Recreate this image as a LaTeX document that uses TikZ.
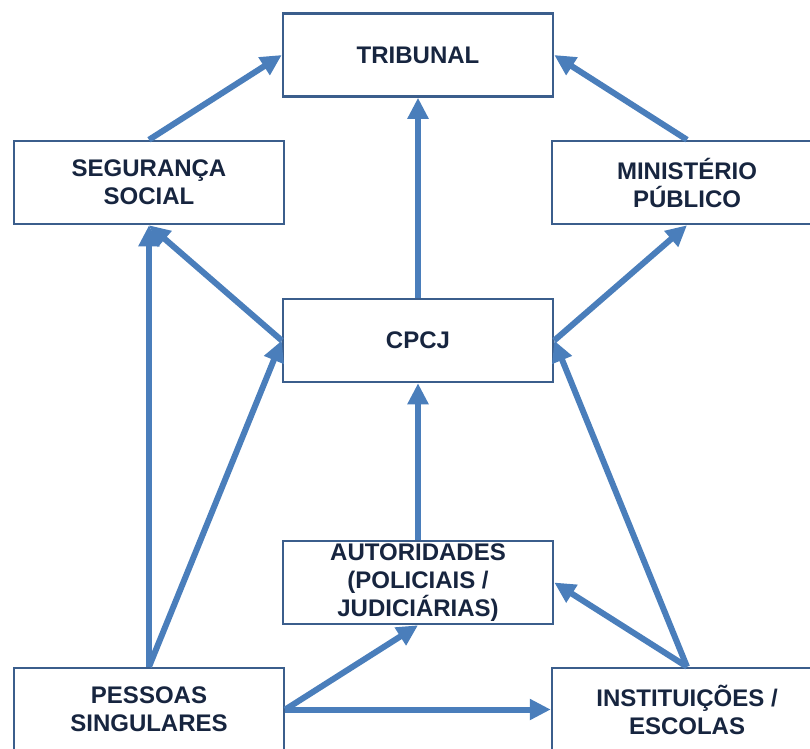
\documentclass[tikz,border=0pt]{standalone}
\usepackage{fontspec}
\setmainfont{Liberation Sans}
\usepackage{xcolor}
\usetikzlibrary{positioning,arrows.meta}
\definecolor{boxline}{HTML}{3B5E8C}
\definecolor{arrowblue}{HTML}{4A7EBB}
\definecolor{txtnavy}{HTML}{17253F}
\newcommand{\bnode}[3]{\node [box] (#1) at (#2) {#3}}

\begin{document}
\begin{tikzpicture}[x=1pt,y=-1pt,
  box/.style={draw=boxline, line width=2.5pt, fill=white, minimum width=270pt,
    minimum height=83pt, inner sep=0pt, align=center, text=txtnavy,
    font=\fontsize{24}{28}\selectfont\bfseries},
  flow/.style={draw=arrowblue, line width=6pt, -{Triangle[length=21pt,width=20pt]}}]
\useasboundingbox (0,0) rectangle (810,748);

\bnode{TRIB}{418,55}{TRIBUNAL};
\bnode{SEG}{149,182.5}{SEGURANÇA\\SOCIAL};
\bnode{MIN}{687,182.5}{MINISTÉRIO\\PÚBLICO};
\bnode{CPCJ}{418,340.5}{CPCJ};
\bnode{AUT}{418,582.5}{AUTORIDADES\\(POLICIAIS /\\JUDICIÁRIAS)};
\bnode{PES}{149,709.5}{PESSOAS\\SINGULARES};
\bnode{INST}{687,709.5}{INSTITUIÇÕES /\\ESCOLAS};

\draw[flow] (SEG.north) -- (TRIB.west);
\draw[flow] (MIN.north) -- (TRIB.east);
\draw[flow] (CPCJ.north) -- (TRIB.south);
\draw[flow] (CPCJ.west) -- (SEG.south);
\draw[flow] (CPCJ.east) -- (MIN.south);
\draw[flow] (AUT.north) -- (CPCJ.south);
\draw[flow] (PES.north) -- (SEG.south);
\draw[flow] (PES.north) -- (CPCJ.west);
\draw[flow] (PES.east) -- (AUT.south);
\draw[flow] (PES.east) -- (INST.west);
\draw[flow] (INST.north) -- (CPCJ.east);
\draw[flow] (INST.north) -- (AUT.east);

\end{tikzpicture}
\end{document}
